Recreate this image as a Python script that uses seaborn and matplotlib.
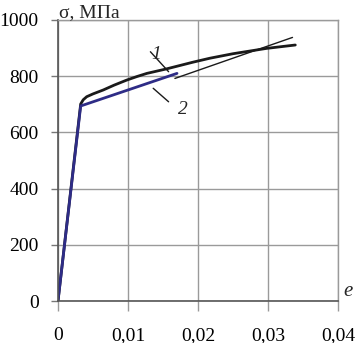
import matplotlib
matplotlib.use("Agg")
import matplotlib.pyplot as plt
import seaborn as sns
import pandas as pd
from matplotlib.ticker import FuncFormatter

# curve 1 (experiment)
strain_1 = [0, 0.00324, 0.0036, 0.0041, 0.0050, 0.00647, 0.0080, 0.0098,
            0.0113, 0.0127, 0.0155, 0.0193, 0.0217, 0.0250, 0.0298, 0.0339]
stress_1 = [0, 701, 716, 727, 737, 751, 768, 786,
            799, 810, 826, 850, 864, 880, 899, 911]
# curve 2 (bilinear model)
strain_2 = [0, 0.00324, 0.0170]
stress_2 = [0, 694, 810]
# thin straight continuation
strain_3 = [0.0167, 0.0335]
stress_3 = [792, 938]

x_ticks = [0, 0.01, 0.02, 0.03, 0.04]
y_ticks = [0, 200, 400, 600, 800, 1000]

sns.set_theme(style="whitegrid")
plt.rcParams["font.family"] = ["Liberation Serif", "DejaVu Serif"]

fig = plt.figure(figsize=(3.59, 3.43), dpi=100)
ax = fig.add_axes([58 / 359, 42 / 343, 280 / 359, 281 / 343])

df1 = pd.DataFrame({"e": strain_1, "s": stress_1})
df2 = pd.DataFrame({"e": strain_2, "s": stress_2})
df3 = pd.DataFrame({"e": strain_3, "s": stress_3})
sns.lineplot(data=df1, x="e", y="s", ax=ax, color="#1a1a1a", linewidth=2.0,
             sort=False, estimator=None)
sns.lineplot(data=df2, x="e", y="s", ax=ax, color="#2e2c86", linewidth=2.0,
             sort=False, estimator=None)
sns.lineplot(data=df3, x="e", y="s", ax=ax, color="#1a1a1a", linewidth=1.0,
             sort=False, estimator=None)

ax.set_xlim(0, 0.04)
ax.set_ylim(0, 1000)
ax.set_xticks(x_ticks)
ax.set_yticks(y_ticks)
ax.xaxis.set_major_formatter(
    FuncFormatter(lambda v, p: ("%g" % round(v, 2)).replace(".", ",")))
ax.set_xlabel("")
ax.set_ylabel("")
ax.set_facecolor("white")
ax.grid(True, color="#9a9a9a", linewidth=1.0)
for side in ["top", "right"]:
    ax.spines[side].set_color("#9a9a9a")
    ax.spines[side].set_linewidth(1.0)
for side in ["left", "bottom"]:
    ax.spines[side].set_color("#555555")
    ax.spines[side].set_linewidth(1.2)
ax.tick_params(axis="y", which="major", length=5, width=1, color="#777777",
               pad=9, labelsize=14, left=True, labelcolor="black")
ax.tick_params(axis="x", which="major", length=7, width=1, color="#9a9a9a",
               pad=12, labelsize=14, bottom=True, labelcolor="black")

# labels
ax.text(0.005, 1.028, "σ, МПа", transform=ax.transAxes, fontsize=14,
        ha="left", va="center")
ax.text(1.02, 0.035, "e", transform=ax.transAxes, fontsize=15,
        style="italic", ha="left", va="center")

# curve markers with leader lines
ax.plot([0.0132, 0.0158], [887, 816], color="#1a1a1a", linewidth=1.0)
ax.text(0.0140, 876, "1", fontsize=14, style="italic", ha="center", va="center")
ax.plot([0.0136, 0.0158], [757, 709], color="#1a1a1a", linewidth=1.0)
ax.text(0.0179, 682, "2", fontsize=14, style="italic", ha="center", va="center")

fig.savefig("out.png", dpi=100)
